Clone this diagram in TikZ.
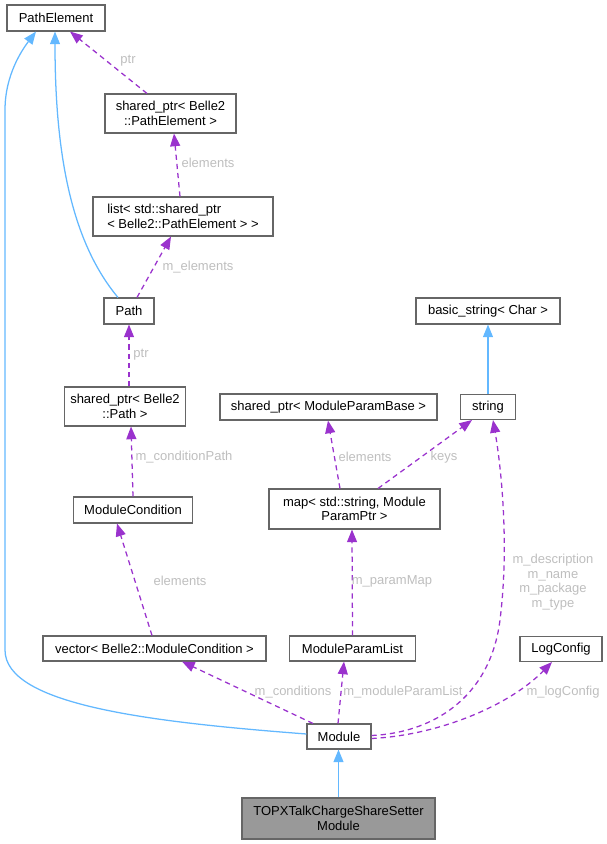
\documentclass[tikz,border=0pt]{standalone}
\usepackage{fontspec}
\setmainfont{Liberation Sans}
\usetikzlibrary{arrows.meta,calc}
\definecolor{edgepurple}{HTML}{9A32CD}
\definecolor{edgeblue}{HTML}{63B8FF}
\definecolor{boxgray}{HTML}{666666}
\definecolor{labgray}{HTML}{BEBEBE}
\definecolor{topfill}{HTML}{999999}
\begin{document}
\begin{tikzpicture}[x=0.75pt,y=-0.75pt,
  every node/.style={font=\fontsize{9.75pt}{11pt}\selectfont},
  cls/.style={draw=boxgray,line width=0.8pt,fill=white,inner sep=0pt,align=center,text=black},
  lab/.style={text=labgray,inner sep=0pt,align=center,font=\fontsize{9.75pt}{10.9pt}\selectfont},
  inh/.style={draw=edgeblue,line width=0.95pt,-{Triangle[length=9.5pt,width=7.5pt]},fill=none},
  usage/.style={draw=edgepurple,line width=0.95pt,dash pattern=on 3.9pt off 3pt,-{Triangle[length=9.5pt,width=7.5pt,fill=edgepurple]},fill=none}
]
\useasboundingbox (0,0) rectangle (607,844);

% nodes
\node[cls,minimum width=98*0.75pt,minimum height=26*0.75pt] (PE) at (56,18) {PathElement};
\node[cls,minimum width=131*0.75pt,minimum height=39*0.75pt] (spPE) at (170.5,113.5) {shared\_ptr< Belle2\\::PathElement >};
\node[cls,minimum width=180*0.75pt,minimum height=39*0.75pt,align=left] (list) at (183,216.5) {list< std::shared\_ptr\\< Belle2::PathElement > >};
\node[cls,minimum width=50*0.75pt,minimum height=26*0.75pt] (Path) at (129,311) {Path};
\node[cls,minimum width=121*0.75pt,minimum height=39*0.75pt] (spPath) at (125,406.5) {shared\_ptr< Belle2\\::Path >};
\node[cls,minimum width=119*0.75pt,minimum height=26*0.75pt] (MC) at (133,510) {ModuleCondition};
\node[cls,minimum width=223*0.75pt,minimum height=25*0.75pt] (vec) at (154.5,648.5) {vector< Belle2::ModuleCondition >};
\node[cls,minimum width=126*0.75pt,minimum height=25*0.75pt] (MPL) at (352.5,648.5) {ModuleParamList};
\node[cls,minimum width=82*0.75pt,minimum height=25*0.75pt] (LC) at (561,649) {LogConfig};
\node[cls,minimum width=64*0.75pt,minimum height=25*0.75pt] (Module) at (339,736.5) {Module};
\node[cls,fill=topfill,minimum width=193*0.75pt,minimum height=41*0.75pt] (TOPX) at (338.5,818.5) {TOPXTalkChargeShareSetter\\Module};
\node[cls,minimum width=144*0.75pt,minimum height=26*0.75pt] (bs) at (488,311) {basic\_string< Char >};
\node[cls,minimum width=55*0.75pt,minimum height=25*0.75pt] (str) at (488,407) {string};
\node[cls,minimum width=217*0.75pt,minimum height=26*0.75pt] (spMPB) at (328.5,407) {shared\_ptr< ModuleParamBase >};
\node[cls,minimum width=171*0.75pt,minimum height=40*0.75pt] (map) at (354.5,509) {map< std::string, Module\\ParamPtr >};

% inheritance edges
\draw[inh] ($(Path.north)+(-11,0)$) .. controls (70,240) and (55,150) .. ($(PE.south)+(-1,0)$);
\draw[inh] ($(Module.west)+(0,-2.5)$) .. controls (150,722) and (5,705) .. (5,650) -- (5,110) .. controls (5,75) and (22,50) .. ($(PE.south)+(-20,0)$);
\draw[inh] (TOPX.north) -- (TOPX.north |- Module.south);
\draw[inh] (str.north) -- (str.north |- bs.south);

% usage edges
\draw[usage] ($(spPE.north)+(-23.5,0)$) -- ($(PE.south)+(14,0)$);
\node[lab] (l1) at (128,61) {ptr};
\draw[usage] ($(list.north)+(-3,0)$) -- ($(spPE.south)+(3.5,0)$);
\node[lab] (l2) at (208,163) {elements};
\draw[usage] ($(Path.north)+(8,0)$) -- ($(list.south)+(-12,0)$);
\node[lab] (l3) at (198,267) {m\_elements};
\draw[usage] ($(spPath.north)+(4,0)$) -- ($(Path.south)$);
\node[lab] (l4) at (141,355) {ptr};
\draw[usage] (MC.north) -- ($(spPath.south)+(6,0)$);
\node[lab] (l5) at (184,457) {m\_conditionPath};
\draw[usage] ($(vec.north)+(-2.5,0)$) -- ($(MC.south)+(-16,0)$);
\node[lab] (l6) at (180,581) {elements};
\draw[usage] ($(Module.north)+(-26,0)$) -- ($(vec.south)+(27.5,0)$);
\node[lab] (l7) at (293,692) {m\_conditions};
\draw[usage] ($(Module.north)+(-1,0)$) -- ($(MPL.south)+(-8.5,0)$);
\node[lab] (l8) at (403,692) {m\_moduleParamList};
\draw[usage] ($(MPL.north)+(0,0)$) -- ($(map.south)+(-2.5,0)$);
\node[lab] (l9) at (392,581) {m\_paramMap};
\draw[usage] ($(map.north)+(-14.5,0)$) -- ($(spMPB.south)+(-0.5,0)$);
\node[lab] (l10) at (365,457) {elements};
\draw[usage] ($(map.north)+(23.5,0)$) -- ($(str.south)+(-16,0)$);
\node[lab] (l11) at (444,457) {keys};
\draw[usage] ($(Module.east)+(0,-1)$) .. controls (430,733) and (490,700) .. (500,620) .. controls (510,540) and (500,460) .. ($(str.south)+(5,0)$);
\node[lab] (l12) at (553,582) {m\_description\\m\_name\\m\_package\\m\_type};
\draw[usage] ($(Module.east)+(0,2)$) .. controls (440,735) and (510,705) .. ($(LC.south)+(-9,0)$);
\node[lab] (l13) at (563,692) {m\_logConfig};
\end{tikzpicture}
\end{document}
